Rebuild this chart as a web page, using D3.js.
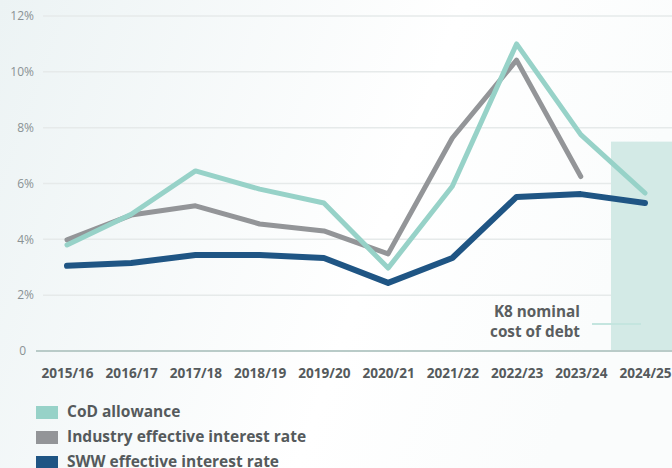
<!DOCTYPE html>
<html><head><meta charset="utf-8">
<script src="https://cdn.jsdelivr.net/npm/d3@7"></script>
<style>
html,body{margin:0;padding:0;background:#fff;}
svg{display:block;}
text{font-family:"Open Sans",sans-serif;}
</style></head>
<body>
<svg id="chart" width="672" height="468"></svg>
<script>
const years = ["2015/16","2016/17","2017/18","2018/19","2019/20","2020/21","2021/22","2022/23","2023/24","2024/25"];
const codAllowance = [3.8,4.9,6.45,5.8,5.3,2.97,5.9,11.0,7.75,5.66];
const industryRate = [3.98,4.87,5.2,4.55,4.3,3.48,7.63,10.42,6.25,null];
const swwRate = [3.05,3.15,3.44,3.44,3.33,2.44,3.33,5.52,5.62,5.3];
const yTicks = [0,2,4,6,8,10,12];
const k8Band = {from:"2024/25", top:7.5};
const seriesNames = ["CoD allowance","Industry effective interest rate","SWW effective interest rate"];
const seriesColors = ["#97d2c8","#939598","#1f5584"];

const svg = d3.select("#chart");
const W=672,H=468;
const defs = svg.append("defs");
const g1 = defs.append("linearGradient").attr("id","bg").attr("x1","0").attr("y1","0").attr("x2","1").attr("y2","0.25");
g1.append("stop").attr("offset","0").attr("stop-color","#ecf3f4");
g1.append("stop").attr("offset","0.65").attr("stop-color","#ffffff");
g1.append("stop").attr("offset","1").attr("stop-color","#fafcfc");
svg.append("rect").attr("width",W).attr("height",H).attr("fill","url(#bg)");

const x = d3.scalePoint().domain(years).range([67,645]);
const y = d3.scaleLinear().domain([0,12]).range([351,16]);

// gridlines
svg.append("g").selectAll("line").data(yTicks.filter(d=>d>0)).join("line")
  .attr("x1",43).attr("x2",W).attr("y1",d=>y(d)).attr("y2",d=>y(d))
  .attr("stroke","#e6eaea").attr("stroke-width",1.5);

// y labels
svg.append("g").selectAll("text").data(yTicks).join("text")
  .attr("x",d=>d===0?26:34).attr("y",d=>y(d)).attr("dy","0.35em")
  .attr("text-anchor","end").attr("font-size",12).attr("fill","#8a9294")
  .text(d=>d===0?"0":d+"%");

// K8 band
svg.append("rect").attr("x",x(k8Band.from)-34).attr("y",y(k8Band.top))
  .attr("width",W-(x(k8Band.from)-34)).attr("height",y(0)-y(k8Band.top))
  .attr("fill","#d3eae6");

// zero axis
svg.append("line").attr("x1",36).attr("x2",W).attr("y1",y(0)).attr("y2",y(0))
  .attr("stroke","#b9cbc8").attr("stroke-width",2);

// x labels
const xAxis = d3.axisBottom(x).tickSize(0).tickPadding(0);
const xg = svg.append("g").attr("transform",`translate(0,${y(0)+17})`).call(xAxis);
xg.select(".domain").remove();
xg.selectAll("text").attr("font-family","'Open Sans',sans-serif").attr("font-weight",700)
  .attr("font-size",13.6).attr("fill","#555a5c").attr("dy","0.71em");

// lines
const line = d3.line().defined(d=>d.v!=null).x(d=>x(d.k)).y(d=>y(d.v)).curve(d3.curveLinear);
const series = [codAllowance,industryRate,swwRate];
const widths=[5,5,6];
[1,0,2].forEach(i=>{
  svg.append("path").datum(years.map((k,j)=>({k,v:series[i][j]})))
    .attr("d",line).attr("fill","none").attr("stroke",seriesColors[i])
    .attr("stroke-width",widths[i]).attr("stroke-linejoin","round").attr("stroke-linecap","round");
});

// annotation
const ann = svg.append("text").attr("text-anchor","end").attr("font-weight",700)
  .attr("font-size",15.3).attr("fill","#5a5e60");
ann.append("tspan").attr("x",580).attr("y",317).text("K8 nominal");
ann.append("tspan").attr("x",580).attr("y",337).text("cost of debt");
svg.append("line").attr("x1",592).attr("x2",641).attr("y1",324).attr("y2",324)
  .attr("stroke","#c4e5df").attr("stroke-width",2);

// legend
const lg = svg.append("g").selectAll("g").data(seriesNames).join("g")
  .attr("transform",(d,i)=>`translate(36,${412+i*25})`);
lg.append("rect").attr("x",0).attr("y",-6).attr("width",22).attr("height",13)
  .attr("fill",(d,i)=>seriesColors[i]);
lg.append("text").attr("x",31).attr("y",0).attr("dy","0.35em").attr("font-weight",700)
  .attr("font-size",15.5).attr("fill","#555a5c").text(d=>d);
</script>
</body></html>
